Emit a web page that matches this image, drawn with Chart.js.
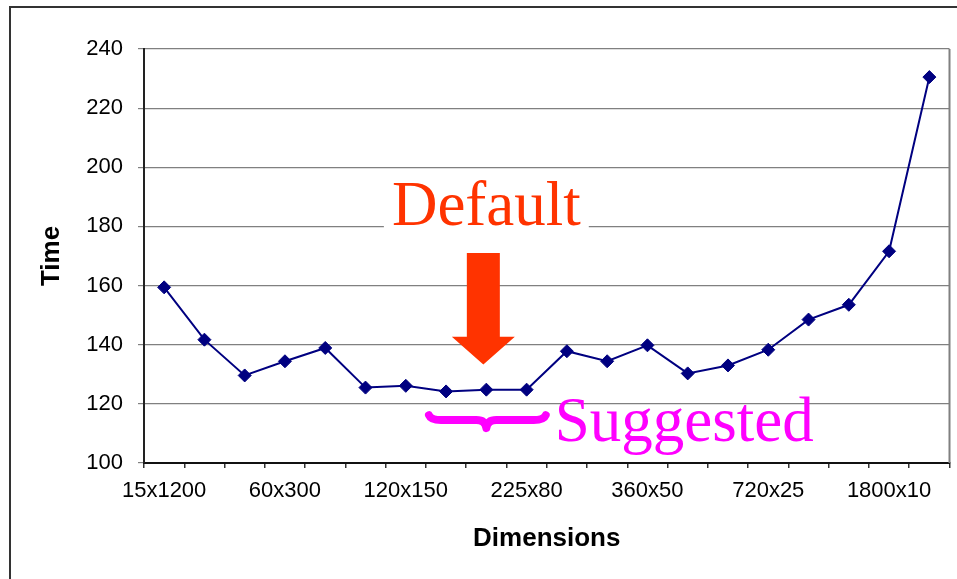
<!DOCTYPE html>
<html>
<head>
<meta charset="utf-8">
<script src="https://cdn.jsdelivr.net/npm/chart.js@4/dist/chart.umd.min.js"></script>
<style>
  html, body { margin: 0; padding: 0; background: #fff; }
  #wrap { width: 957px; height: 579px; }
</style>
</head>
<body>
<div id="wrap"><canvas id="c" width="957" height="579"></canvas></div>
<script>
// Grid dimensions (rows x columns) that were timed
const dimensions = [
  '15x1200', '20x900', '30x600', '60x300', '75x240', '100x180', '120x150',
  '150x120', '180x100', '225x80', '250x72', '300x60', '360x50', '450x40',
  '600x30', '720x25', '900x20', '1200x15', '1800x10', '3600x5'
];
// Measured run time for each dimension
const times = [
  159.4, 141.7, 129.6, 134.4, 138.9, 125.5, 126.1, 124.2, 124.8, 124.8,
  137.8, 134.4, 139.8, 130.3, 133.0, 138.3, 148.5, 153.5, 171.6, 230.5
];
// Value axis
const yMin = 100, yMax = 240, yStep = 20;
// Only every third dimension gets a label
const labelEvery = 3;

// Annotation anchors, in axis units (category index / time)
const defaultIndex = 8;            // the default configuration
const arrowTop = 171, arrowHeadBase = 142.7, arrowTip = 133.3;
const defaultTextBase = 180.5;
const suggestedFrom = 6.55, suggestedTo = 9.5, suggestedMid = 8;
const braceLevel = 114.5;
const suggestedTextBase = 107.3;

const annotations = {
  id: 'annotations',
  beforeDraw(chart) {
    const ctx = chart.ctx;
    ctx.save();
    ctx.fillStyle = '#fff';
    ctx.fillRect(0, 0, chart.width, chart.height);
    // outer frame
    ctx.strokeStyle = '#333';
    ctx.lineWidth = 2;
    ctx.beginPath();
    ctx.moveTo(10, chart.height);
    ctx.lineTo(10, 7);
    ctx.lineTo(chart.width, 7);
    ctx.stroke();
    ctx.restore();
  },
  afterDatasetsDraw(chart) {
    const ctx = chart.ctx;
    const x = chart.scales.x, y = chart.scales.y;
    const area = chart.chartArea;
    ctx.save();

    // right edge of the plot area
    ctx.strokeStyle = '#808080';
    ctx.lineWidth = 2;
    ctx.beginPath();
    ctx.moveTo(area.right, area.top);
    ctx.lineTo(area.right, area.bottom);
    ctx.stroke();

    // "Default" label on a white box
    const dx = x.getPixelForValue(defaultIndex);
    ctx.font = '63px "Liberation Serif", "Times New Roman", serif';
    ctx.textAlign = 'center';
    ctx.textBaseline = 'alphabetic';
    const dw = ctx.measureText('Default').width;
    const dBase = y.getPixelForValue(defaultTextBase);
    ctx.fillStyle = '#fff';
    ctx.fillRect(dx - dw / 2 - 8, dBase - 50, dw + 16, 58);
    ctx.fillStyle = '#FF3300';
    ctx.fillText('Default', dx, dBase);

    // arrow pointing down at the default
    const ax = dx - 3;
    const yTop = y.getPixelForValue(arrowTop);
    const yHead = y.getPixelForValue(arrowHeadBase);
    const yTip = y.getPixelForValue(arrowTip);
    ctx.fillStyle = '#FF3300';
    ctx.beginPath();
    ctx.moveTo(ax - 16.5, yTop);
    ctx.lineTo(ax + 16.5, yTop);
    ctx.lineTo(ax + 16.5, yHead);
    ctx.lineTo(ax + 31.5, yHead);
    ctx.lineTo(ax, yTip);
    ctx.lineTo(ax - 31.5, yHead);
    ctx.lineTo(ax - 16.5, yHead);
    ctx.closePath();
    ctx.fill();

    // brace under the suggested range
    const bl = x.getPixelForValue(suggestedFrom);
    const br = x.getPixelForValue(suggestedTo);
    const bm = x.getPixelForValue(suggestedMid);
    const by = y.getPixelForValue(braceLevel);
    ctx.strokeStyle = '#FF00FF';
    ctx.lineWidth = 8;
    ctx.lineCap = 'round';
    ctx.lineJoin = 'round';
    ctx.beginPath();
    ctx.moveTo(bl + 1, by - 5);
    ctx.quadraticCurveTo(bl + 3, by, bl + 13, by);
    ctx.lineTo(bm - 10, by);
    ctx.quadraticCurveTo(bm - 1, by, bm, by + 8);
    ctx.quadraticCurveTo(bm + 1, by, bm + 10, by);
    ctx.lineTo(br - 13, by);
    ctx.quadraticCurveTo(br - 3, by, br - 1, by - 5);
    ctx.stroke();

    // "Suggested" label
    ctx.fillStyle = '#FF00FF';
    ctx.textAlign = 'left';
    ctx.fillText('Suggested', br + 8, y.getPixelForValue(suggestedTextBase));
    ctx.restore();
  }
};

new Chart(document.getElementById('c'), {
  type: 'line',
  data: {
    labels: dimensions,
    datasets: [{
      data: times,
      borderColor: '#000080',
      borderWidth: 2,
      backgroundColor: '#000080',
      pointStyle: 'rectRot',
      pointRadius: 6.5,
      pointBorderWidth: 1,
      pointBorderColor: '#000080',
      pointBackgroundColor: '#000080',
      tension: 0
    }]
  },
  options: {
    responsive: false,
    animation: false,
    layout: { padding: { left: 0, top: 49, right: 5, bottom: 0 } },
    plugins: { legend: { display: false }, tooltip: { enabled: false } },
    scales: {
      x: {
        type: 'category',
        offset: true,
        afterFit(s) { s.height = 116; },
        grid: {
          offset: true,
          drawOnChartArea: false,
          drawTicks: true,
          tickLength: 5,
          color: '#333',
          lineWidth: 1.5
        },
        border: { display: true, color: '#111', width: 2 },
        ticks: {
          autoSkip: false,
          maxRotation: 0,
          minRotation: 0,
          padding: 10,
          color: '#000',
          font: { family: '"Liberation Sans", Arial, sans-serif', size: 22 },
          callback(value, index) {
            return index % labelEvery === 0 ? this.getLabelForValue(value) : '';
          }
        },
        title: {
          display: true,
          text: 'Dimensions',
          color: '#000',
          font: { family: '"Liberation Sans", Arial, sans-serif', size: 26, weight: 'bold' },
          padding: { top: 0, bottom: 25 }
        }
      },
      y: {
        min: yMin,
        max: yMax,
        afterFit(s) { s.width = 144; },
        grid: {
          color: '#808080',
          lineWidth: 1.2,
          drawTicks: true,
          tickLength: 6
        },
        border: { display: true, color: '#222', width: 2 },
        ticks: {
          stepSize: yStep,
          padding: 15,
          color: '#000',
          font: { family: '"Liberation Sans", Arial, sans-serif', size: 22 }
        },
        title: {
          display: true,
          text: 'Time',
          color: '#000',
          font: { family: '"Liberation Sans", Arial, sans-serif', size: 26, weight: 'bold' },
          padding: { top: 36, bottom: 0 }
        }
      }
    }
  },
  plugins: [annotations]
});
</script>
</body>
</html>
